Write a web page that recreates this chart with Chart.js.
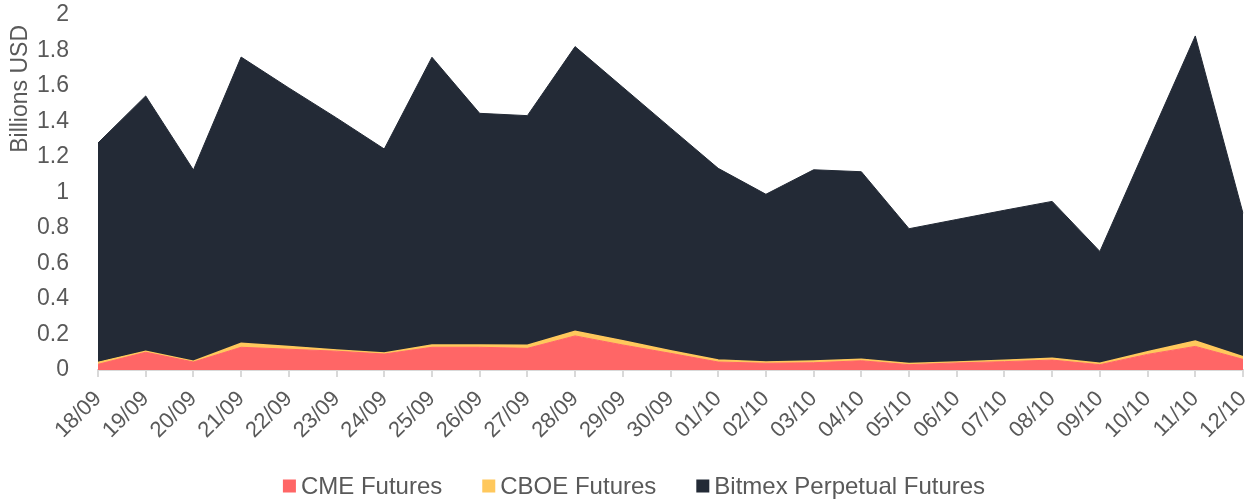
<!DOCTYPE html>
<html>
<head>
<meta charset="utf-8">
<script src="https://cdn.jsdelivr.net/npm/chart.js@4.4.1/dist/chart.umd.min.js"></script>
<style>
  html, body { margin: 0; padding: 0; background: #ffffff; }
  #wrap { width: 1254px; height: 501px; position: relative; }
</style>
</head>
<body>
<div id="wrap"><canvas id="c"></canvas></div>
<script>
const categories = ["18/09","19/09","20/09","21/09","22/09","23/09","24/09","25/09","26/09","27/09","28/09","29/09","30/09",
                    "01/10","02/10","03/10","04/10","05/10","06/10","07/10","08/10","09/10","10/10","11/10","12/10"];
const cmeFutures = [0.032,0.100,0.045,0.128,0.117,0.106,0.090,0.128,0.128,0.122,0.192,0.141,0.094,
                    0.045,0.038,0.041,0.052,0.030,0.040,0.047,0.056,0.030,0.088,0.133,0.060];
const cboeFutures = [0.011,0.005,0.005,0.022,0.015,0.007,0.006,0.013,0.013,0.017,0.026,0.024,0.015,
                     0.011,0.007,0.010,0.008,0.006,0.005,0.008,0.010,0.008,0.015,0.030,0.015];
const bitmexPerpetual = [1.236,1.439,1.077,1.613,1.457,1.307,1.149,1.621,1.305,1.294,1.604,1.428,1.255,
                         1.080,0.945,1.077,1.057,0.760,0.803,0.845,0.884,0.630,1.173,1.719,0.808];
const seriesNames = ["CME Futures","CBOE Futures","Bitmex Perpetual Futures"];
const yTickValues = [0,0.2,0.4,0.6,0.8,1,1.2,1.4,1.6,1.8,2];
const yTickLabels = ["0","0.2","0.4","0.6","0.8","1","1.2","1.4","1.6","1.8","2"];
const yAxisTitle = "Billions USD";

const COL_CME = '#FF6666', COL_CBOE = '#FFC85C', COL_BTX = '#232A36';
const TEXT = '#595959';
const FONT = "'Liberation Sans', Arial, sans-serif";

// Bottom legend and y-axis title drawn as canvas text
const annotPlugin = {
  id: 'annot',
  afterDraw(chart) {
    const ctx = chart.ctx;
    const ds = chart.data.datasets;
    const fontSize = 24, box = 13, gapText = 5, gapItem = 40, cy = 486;
    ctx.save();
    ctx.font = fontSize + 'px ' + FONT;
    ctx.textBaseline = 'middle';
    ctx.textAlign = 'left';
    const widths = ds.map(d => box + gapText + ctx.measureText(d.label).width);
    const total = widths.reduce((a, b) => a + b, 0) + gapItem * (ds.length - 1);
    let x = 634 - total / 2;
    ds.forEach((d, i) => {
      ctx.fillStyle = d.backgroundColor;
      ctx.fillRect(x, cy - box / 2, box, box);
      ctx.fillStyle = TEXT;
      ctx.fillText(d.label, x + box + gapText, cy + 1);
      x += widths[i] + gapItem;
    });
    ctx.restore();

    // y-axis title
    ctx.save();
    ctx.translate(21, 25);
    ctx.rotate(-Math.PI / 2);
    ctx.font = '23px ' + FONT;
    ctx.fillStyle = TEXT;
    ctx.textAlign = 'right';
    ctx.textBaseline = 'middle';
    ctx.fillText(yAxisTitle, 0, 0);
    ctx.restore();
  }
};

new Chart(document.getElementById('c'), {
  type: 'line',
  data: {
    labels: categories,
    datasets: [
      { label: seriesNames[0], data: cmeFutures, backgroundColor: COL_CME, borderColor: COL_CME,
        borderWidth: 1, fill: 'origin', pointRadius: 0, tension: 0 },
      { label: seriesNames[1], data: cboeFutures, backgroundColor: COL_CBOE, borderColor: COL_CBOE,
        borderWidth: 1.5, fill: '-1', pointRadius: 0, tension: 0 },
      { label: seriesNames[2], data: bitmexPerpetual, backgroundColor: COL_BTX, borderColor: COL_BTX,
        borderWidth: 1, fill: '-1', pointRadius: 0, tension: 0 }
    ]
  },
  options: {
    responsive: true,
    maintainAspectRatio: false,
    devicePixelRatio: 1,
    animation: false,
    layout: { padding: { left: 0, right: 11, top: 15, bottom: 45 } },
    plugins: {
      legend: { display: false },
      tooltip: { enabled: false }
    },
    scales: {
      x: {
        offset: false,
        grid: { display: true, drawOnChartArea: false, drawTicks: true, tickLength: 7, color: '#D9D9D9', lineWidth: 2 },
        border: { display: true, color: '#D9D9D9', width: 2 },
        ticks: { color: TEXT, font: { family: FONT, size: 22 }, minRotation: 45, maxRotation: 45, padding: 9, autoSkip: false },
        afterFit(scale) { scale.height = 86; scale.paddingLeft = 0; scale.paddingRight = 0; scale.paddingTop = 0; scale.paddingBottom = 0; }
      },
      y: {
        stacked: true,
        min: 0, max: 2,
        afterBuildTicks(scale) { scale.ticks = yTickValues.map(v => ({ value: v })); },
        grid: { display: false },
        border: { display: false },
        ticks: { color: TEXT, font: { family: FONT, size: 23 }, padding: 21,
                 callback: (v) => yTickLabels[yTickValues.findIndex(t => Math.abs(t - v) < 1e-9)] },
        title: { display: false, text: yAxisTitle },
        afterFit(scale) { scale.width = 98; scale.paddingTop = 0; scale.paddingBottom = 0; scale.paddingLeft = 0; scale.paddingRight = 0; }
      }
    }
  },
  plugins: [annotPlugin]
});
</script>
</body>
</html>
